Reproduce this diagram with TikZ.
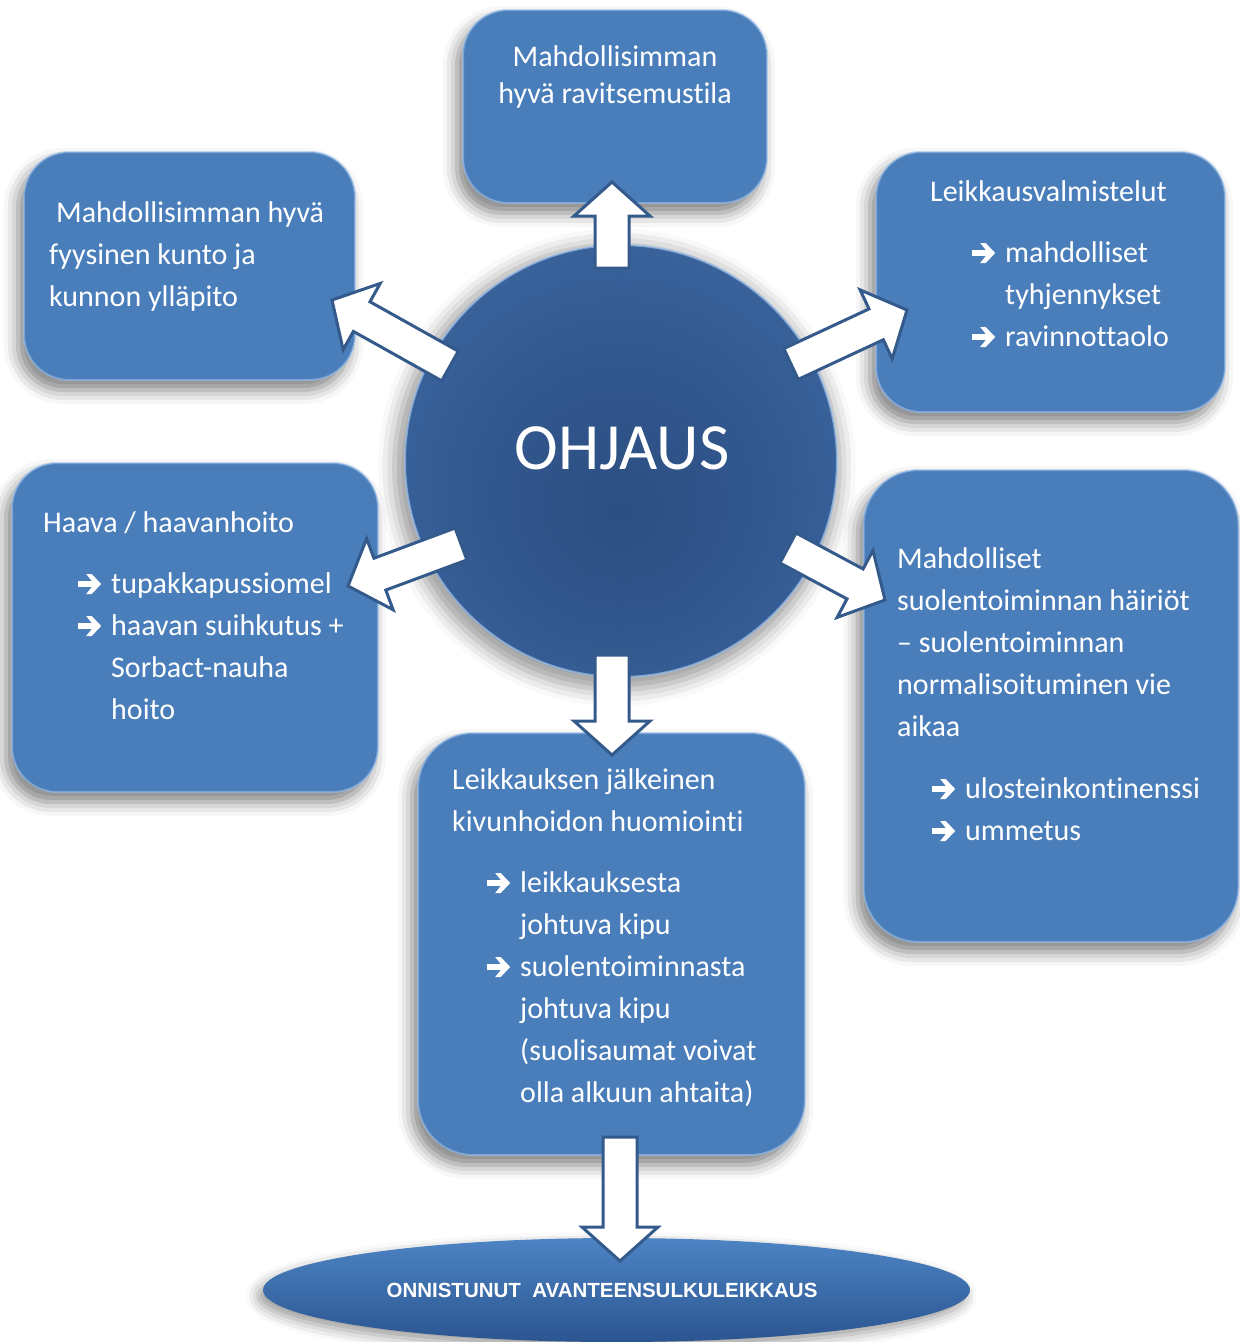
\documentclass[tikz,border=0pt]{standalone}
\usepackage{fontspec}
\setmainfont{Carlito}[Ligatures=NoCommon]
\newfontfamily\ellfnt{Liberation Sans}
\usetikzlibrary{calc,shapes.geometric,shadows.blur}
\definecolor{boxblue}{HTML}{4A7EBB}
\definecolor{rimblue}{HTML}{9CC0EA}
\definecolor{arrowline}{HTML}{345A8C}
\definecolor{cdark}{HTML}{2C4E82}
\definecolor{cmid}{HTML}{33598F}
\definecolor{cedge}{HTML}{4778B9}
\definecolor{elltop}{HTML}{4D84C4}
\definecolor{ellbot}{HTML}{2B5590}
\pgfdeclareradialshading{ohjshade}{\pgfpoint{0bp}{-6bp}}{color(0bp)=(cdark); color(18bp)=(cmid); color(50bp)=(cedge)}
\newcommand\itm{\makebox[33pt][l]{\tikz[x=1pt,y=1pt,baseline=-9pt]{\fill[white] (1,-2.8) rectangle (17,2.8); \fill[white] (9,-10) -- (14.5,-10) -- (24,0) -- (14.5,10) -- (9,10) -- (17,0) -- cycle;}}}
\newcommand\blockarr[3]{%
  \coordinate (#3h) at ($(#2)!34pt!(#1)$);
  \draw[blockarrow] ($(#1)!17pt!90:(#2)$) -- ($(#3h)!17pt!90:(#2)$) -- ($(#3h)!38pt!90:(#2)$) -- (#2) -- ($(#3h)!38pt!-90:(#2)$) -- ($(#3h)!17pt!-90:(#2)$) -- ($(#1)!17pt!-90:(#2)$) -- cycle;}
\tikzset{
  box/.style={rounded corners=45pt, fill=boxblue, draw=rimblue, draw opacity=0.6, line width=2pt, inner sep=0pt,
    blur shadow={shadow xshift=-6pt, shadow yshift=-10pt, shadow blur radius=14pt, shadow opacity=50}},
  boxtext/.style={text=white, inner sep=0pt, anchor=base west, font=\fontsize{30}{42}\selectfont},
  blockarrow/.style={fill=white, draw=arrowline, line width=3pt, miter limit=10}
}
\begin{document}
\begin{tikzpicture}[x=1pt,y=-1pt]
\useasboundingbox (0,0) rectangle (1240,1342);
% centre circle
\node[circle, minimum size=432pt, inner sep=0pt, shading=ohjshade, draw=rimblue, draw opacity=0.7, line width=2pt,
  blur shadow={shadow xshift=-4pt, shadow yshift=-6pt, shadow blur radius=16pt, shadow opacity=40, shadow scale=1.03}] (ohj) at (621,461) {};
\node[text=white, inner sep=0pt, anchor=base, font=\fontsize{66}{66}\selectfont] (ohjtext) at (622,469) {OHJAUS};
% boxes
\node[box, minimum width=304pt, minimum height=193pt] (topbox) at (615,106.5) {};
\node[box, minimum width=331pt, minimum height=228pt] (tlbox) at (189.5,266) {};
\node[box, minimum width=349pt, minimum height=260pt] (trbox) at (1050.5,282) {};
\node[box, minimum width=366pt, minimum height=329pt] (lmbox) at (195,627.5) {};
\node[box, minimum width=375pt, minimum height=472pt, rounded corners=55pt] (rmbox) at (1051,706) {};
\node[box, minimum width=387pt, minimum height=422pt, rounded corners=55pt] (botbox) at (611.5,944) {};
% goal ellipse
\node[ellipse, minimum width=707pt, minimum height=104pt, inner sep=0pt, top color=elltop, bottom color=ellbot,
  blur shadow={shadow xshift=-5pt, shadow yshift=-6pt, shadow blur radius=12pt, shadow opacity=40}] (goal) at (616.5,1290) {};
\node[text=white, inner sep=0pt, anchor=base, font=\ellfnt\bfseries\fontsize{20.5}{20.5}\selectfont] (goaltext) at (602,1297) {ONNISTUNUT\ \ AVANTEENSULKULEIKKAUS};
% texts
\node[boxtext, anchor=base, font=\fontsize{30}{37}\selectfont] (toptext) at (615,66) {\begin{tabular}[t]{@{}c@{}}Mahdollisimman\\ hyvä ravitsemustila\end{tabular}};
\node[boxtext] (tltext) at (49,222) {\begin{tabular}[t]{@{}l@{}}\hspace*{7pt}Mahdollisimman hyvä\\ fyysinen kunto ja\\ kunnon ylläpito\end{tabular}};
\node[boxtext] (trtext) at (930,201) {\begin{tabular}[t]{@{}l@{}}Leikkausvalmistelut\\[19pt]
  \hspace*{42pt}\itm mahdolliset\\ \hspace*{75pt}tyhjennykset\\ \hspace*{42pt}\itm ravinnottaolo\end{tabular}};
\node[boxtext] (lmtext) at (43,532) {\begin{tabular}[t]{@{}l@{}}Haava / haavanhoito\\[19pt]
  \hspace*{35pt}\itm tupakkapussiomel\\ \hspace*{35pt}\itm haavan suihkutus +\\ \hspace*{68pt}Sorbact-nauha\\ \hspace*{68pt}hoito\end{tabular}};
\node[boxtext] (rmtext) at (897,568) {\begin{tabular}[t]{@{}l@{}}Mahdolliset\\ suolentoiminnan häiriöt\\ – suolentoiminnan\\ normalisoituminen vie\\ aikaa\\[20pt]
  \hspace*{35pt}\itm ulosteinkontinenssi\\ \hspace*{35pt}\itm ummetus\end{tabular}};
\node[boxtext] (bottext) at (452,789) {\begin{tabular}[t]{@{}l@{}}Leikkauksen jälkeinen\\ kivunhoidon huomiointi\\[19pt]
  \hspace*{35pt}\itm leikkauksesta\\ \hspace*{68pt}johtuva kipu\\ \hspace*{35pt}\itm suolentoiminnasta\\ \hspace*{68pt}johtuva kipu\\ \hspace*{68pt}(suolisaumat voivat\\ \hspace*{68pt}olla alkuun ahtaita)\end{tabular}};
% arrow end points
\coordinate (upT) at (612,268);  \coordinate (upH) at (612,182);
\coordinate (ulT) at (450,366);  \coordinate (ulH) at (332,300);
\coordinate (urT) at (791,364);  \coordinate (urH) at (907,310);
\coordinate (llT) at (461,544);  \coordinate (llH) at (348,586);
\coordinate (lrT) at (788,548);  \coordinate (lrH) at (885,600);
\coordinate (dnT) at (612,655);  \coordinate (dnH) at (612,755);
\coordinate (btT) at (620,1137); \coordinate (btH) at (620,1261);
\blockarr{upT}{upH}{aup}
\blockarr{ulT}{ulH}{aul}
\blockarr{urT}{urH}{aur}
\blockarr{llT}{llH}{all}
\blockarr{lrT}{lrH}{alr}
\blockarr{dnT}{dnH}{adn}
\blockarr{btT}{btH}{abt}
\end{tikzpicture}
\end{document}
